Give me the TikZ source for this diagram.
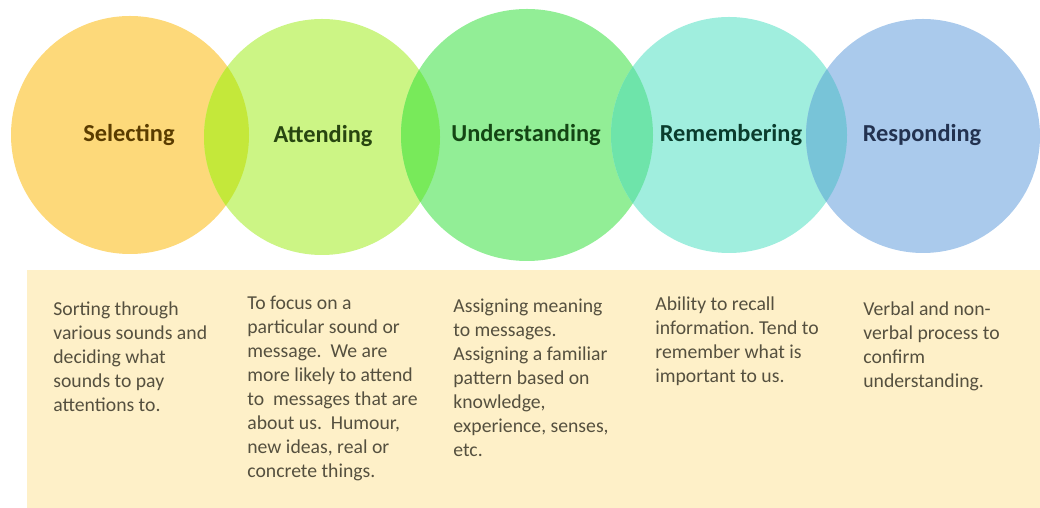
\documentclass[tikz,border=0pt]{standalone}
\usepackage{fontspec}
\setmainfont{Carlito}
\usetikzlibrary{calc}
\frenchspacing

\definecolor{panel}{HTML}{FEF0C8}
\definecolor{bodytext}{HTML}{55503F}
\definecolor{selfill}{HTML}{FDD97A}
\definecolor{attfill}{HTML}{CCF585}
\definecolor{undfill}{HTML}{92EE96}
\definecolor{remfill}{HTML}{A0EEDE}
\definecolor{resfill}{HTML}{AACAEC}
\definecolor{lensSA}{HTML}{C4E83A}
\definecolor{lensAU}{HTML}{78EA5A}
\definecolor{lensUM}{HTML}{6EE4AA}
\definecolor{lensMR}{HTML}{78C4D8}
\definecolor{seltext}{HTML}{5A3C00}
\definecolor{atttext}{HTML}{284610}
\definecolor{undtext}{HTML}{144614}
\definecolor{remtext}{HTML}{0A3C2D}
\definecolor{restext}{HTML}{233250}

\tikzset{
  stage/.style={inner sep=0pt,font=\fontsize{12.2}{14}\selectfont\bfseries},
  blurb/.style={anchor=north west,align=left,inner sep=0pt,text=bodytext,
    font=\fontsize{9.85}{12}\selectfont}
}

\begin{document}
\begin{tikzpicture}[x=0.5pt,y=0.5pt]
\useasboundingbox (0,0) rectangle (1040,508);

\coordinate (S) at (130,373);
\coordinate (A) at (322,371);
\coordinate (U) at (527,373);
\coordinate (M) at (729,373);
\coordinate (R) at (923,372);

% cream panel under the circles
\fill[panel] (27,0) rectangle (1040,238);

\fill[selfill] (S) circle (119);
\fill[attfill] (A) circle (118);
\fill[undfill] (U) circle (126);
\fill[remfill] (M) circle (118);
\fill[resfill] (R) circle (117);

% overlaps between neighbours
\begin{scope}
\clip (S) circle (119);
\fill[lensSA] (A) circle (118);
\end{scope}
\begin{scope}
\clip (A) circle (118);
\fill[lensAU] (U) circle (126);
\end{scope}
\begin{scope}
\clip (U) circle (126);
\fill[lensUM] (M) circle (118);
\end{scope}
\begin{scope}
\clip (M) circle (118);
\fill[lensMR] (R) circle (117);
\end{scope}

\node[stage,text=seltext] (sel) at ($(S)+(-1,0)$) {Selecting};
\node[stage,text=atttext] (att) at ($(A)+(1,1)$) {Attending};
\node[stage,text=undtext] (und) at ($(U)+(-1,0)$) {Understanding};
\node[stage,text=remtext] (rem) at ($(M)+(2,0)$) {Remembering};
\node[stage,text=restext] (res) at ($(R)+(-1,1)$) {Responding};

\node[blurb] (seltxt) at (53,207) {Sorting through\\various sounds and\\deciding what\\sounds to pay\\attentions to.};
\node[blurb] (atttxt) at (247,212) {To focus on a\\particular sound or\\message.~ We are\\more likely to attend\\to~ messages that are\\about us.~ Humour,\\new ideas, real or\\concrete things.};
\node[blurb] (undtxt) at (453,209) {Assigning meaning\\to messages.\\Assigning a familiar\\pattern based on\\knowledge,\\experience, senses,\\etc.};
\node[blurb] (remtxt) at (655,212) {Ability to recall\\information. Tend to\\remember what is\\important to us.};
\node[blurb] (restxt) at (863,207) {Verbal and non-\\verbal process to\\confirm\\understanding.};

\end{tikzpicture}
\end{document}
